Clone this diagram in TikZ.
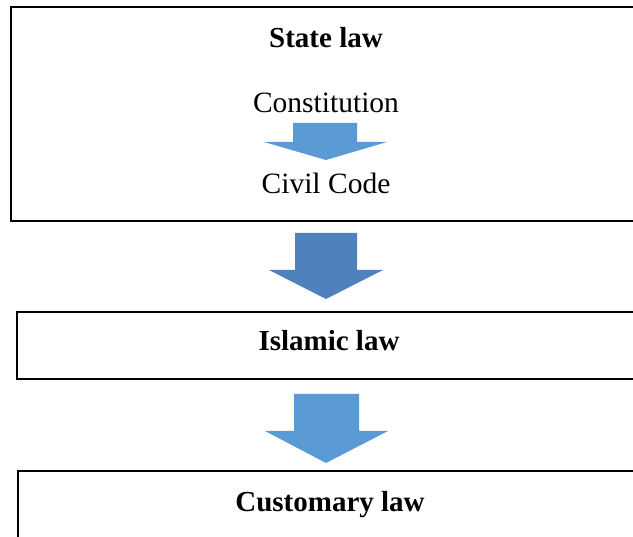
\documentclass[tikz,border=0pt]{standalone}
\usepackage{fontspec}
\setmainfont{Liberation Serif}
\definecolor{arrowblue}{HTML}{5B9BD5}
\definecolor{arrowdark}{HTML}{4F81BD}
\begin{document}
\begin{tikzpicture}[x=1pt,y=-1pt,
  frame/.style={draw=black,line width=2pt,fill=none,inner sep=0pt},
  title/.style={anchor=base,inner sep=0pt,font=\fontsize{29}{34}\selectfont\bfseries},
  entry/.style={anchor=base,inner sep=0pt,font=\fontsize{29.5}{34}\selectfont}]
\useasboundingbox (0,0) rectangle (633,537);
\clip (0,0) rectangle (633,537);

% boxes (they run past the right and bottom edges)
\node[frame,minimum width=644pt,minimum height=213.5pt] (state) at (333,114.25) {};
\node[frame,minimum width=638pt,minimum height=67pt] (islamic) at (336,345.5) {};
\node[frame,minimum width=637.5pt,minimum height=90pt] (custom) at (336.25,516) {};

% texts
\node[title] (statet) at (326,48) {State law};
\node[entry] (const) at (326,113) {Constitution};
\node[entry] (civil) at (326,194) {Civil Code};
\node[title] (islamict) at (329,351) {Islamic law};
\node[title] (customt) at (330,512) {Customary law};

% block arrows
\fill[arrowblue] (293,123) -- (357,123) -- (357,142) -- (387,142) -- (326,160)
  -- (264,142) -- (293,142) -- cycle;
\fill[arrowdark] (295,233) -- (357,233) -- (357,270) -- (383,270) -- (326,299)
  -- (269,270) -- (295,270) -- cycle;
\fill[arrowblue] (294,394) -- (359,394) -- (359,431) -- (388,431) -- (326,463)
  -- (265,431) -- (294,431) -- cycle;
\end{tikzpicture}
\end{document}
